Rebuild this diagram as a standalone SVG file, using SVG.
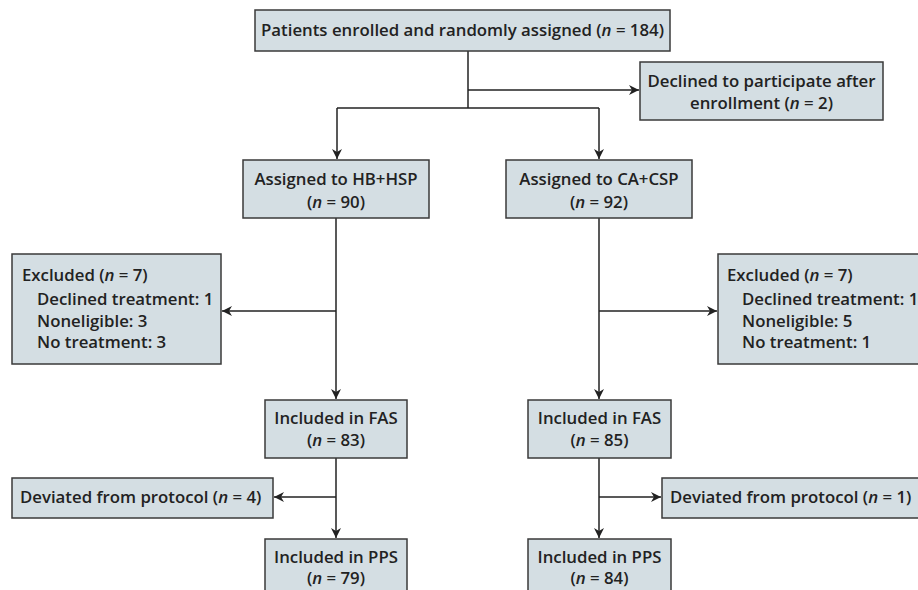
<svg xmlns="http://www.w3.org/2000/svg" width="918" height="590" viewBox="0 0 918 590">
<defs>
<style>
.box{fill:#d4dee3;stroke:#3a3a3a;stroke-width:1.5}
.t{font-family:"Open Sans","Liberation Sans",sans-serif;font-weight:600;font-size:16.8px;fill:#222}
.c{text-anchor:middle}
.ln{stroke:#222;stroke-width:1.5;fill:none}
</style>
<marker id="ah" viewBox="0 0 10 10" refX="10" refY="5" markerWidth="10" markerHeight="10" markerUnits="userSpaceOnUse" orient="auto">
<path d="M0,0 L10,5 L0,10 L3,5 Z" fill="#222"/>
</marker>
</defs>
<rect width="918" height="590" fill="#fff"/>
<g id="connectors">
<path class="ln" d="M468,51 V108"/>
<path class="ln" d="M468,90 H639" marker-end="url(#ah)"/>
<path class="ln" d="M337,108 H599"/>
<path class="ln" d="M337,108 V159" marker-end="url(#ah)"/>
<path class="ln" d="M599,108 V159" marker-end="url(#ah)"/>
<path class="ln" d="M336,218 V399" marker-end="url(#ah)"/>
<path class="ln" d="M336,311 H222" marker-end="url(#ah)"/>
<path class="ln" d="M599,218 V399" marker-end="url(#ah)"/>
<path class="ln" d="M599,311 H717" marker-end="url(#ah)"/>
<path class="ln" d="M336,458 V538" marker-end="url(#ah)"/>
<path class="ln" d="M336,497 H274" marker-end="url(#ah)"/>
<path class="ln" d="M599,458 V538" marker-end="url(#ah)"/>
<path class="ln" d="M599,497 H661" marker-end="url(#ah)"/>
</g>
<g id="enrolled">
<rect class="box" x="255" y="10" width="415" height="41"/>
<text class="t c" x="462.5" y="36">Patients enrolled and randomly assigned (<tspan font-style="italic">n</tspan> = 184)</text>
</g>
<g id="declined">
<rect class="box" x="640" y="62" width="243" height="58"/>
<text class="t c" x="761.5" y="87">Declined to participate after</text>
<text class="t c" x="761.5" y="109">enrollment (<tspan font-style="italic">n</tspan> = 2)</text>
</g>
<g id="assignedHB">
<rect class="box" x="243" y="160" width="186" height="58"/>
<text class="t c" x="336" y="185">Assigned to HB+HSP</text>
<text class="t c" x="336" y="208">(<tspan font-style="italic">n</tspan> = 90)</text>
</g>
<g id="assignedCA">
<rect class="box" x="506" y="160" width="186" height="58"/>
<text class="t c" x="599" y="185">Assigned to CA+CSP</text>
<text class="t c" x="599" y="208">(<tspan font-style="italic">n</tspan> = 92)</text>
</g>
<g id="excludedL">
<rect class="box" x="12" y="254" width="209" height="110"/>
<text class="t" x="22" y="281">Excluded (<tspan font-style="italic">n</tspan> = 7)</text>
<text class="t" x="37" y="305">Declined treatment: 1</text>
<text class="t" x="37" y="327">Noneligible: 3</text>
<text class="t" x="37" y="348">No treatment: 3</text>
</g>
<g id="excludedR">
<rect class="box" x="718" y="254" width="215" height="110"/>
<text class="t" x="727" y="281">Excluded (<tspan font-style="italic">n</tspan> = 7)</text>
<text class="t" x="742" y="305">Declined treatment: 1</text>
<text class="t" x="742" y="327">Noneligible: 5</text>
<text class="t" x="742" y="348">No treatment: 1</text>
</g>
<g id="fasL">
<rect class="box" x="265" y="400" width="142" height="58"/>
<text class="t c" x="336" y="424">Included in FAS</text>
<text class="t c" x="336" y="446">(<tspan font-style="italic">n</tspan> = 83)</text>
</g>
<g id="fasR">
<rect class="box" x="528" y="400" width="143" height="58"/>
<text class="t c" x="599.5" y="424">Included in FAS</text>
<text class="t c" x="599.5" y="446">(<tspan font-style="italic">n</tspan> = 85)</text>
</g>
<g id="devL">
<rect class="box" x="12" y="478" width="261" height="40"/>
<text class="t" x="20" y="503">Deviated from protocol (<tspan font-style="italic">n</tspan> = 4)</text>
</g>
<g id="devR">
<rect class="box" x="662" y="478" width="270" height="40"/>
<text class="t" x="670" y="503">Deviated from protocol (<tspan font-style="italic">n</tspan> = 1)</text>
</g>
<g id="ppsL">
<rect class="box" x="265" y="539" width="142" height="60"/>
<text class="t c" x="336" y="563">Included in PPS</text>
<text class="t c" x="336" y="584">(<tspan font-style="italic">n</tspan> = 79)</text>
</g>
<g id="ppsR">
<rect class="box" x="528" y="539" width="143" height="60"/>
<text class="t c" x="599.5" y="563">Included in PPS</text>
<text class="t c" x="599.5" y="584">(<tspan font-style="italic">n</tspan> = 84)</text>
</g>
</svg>
